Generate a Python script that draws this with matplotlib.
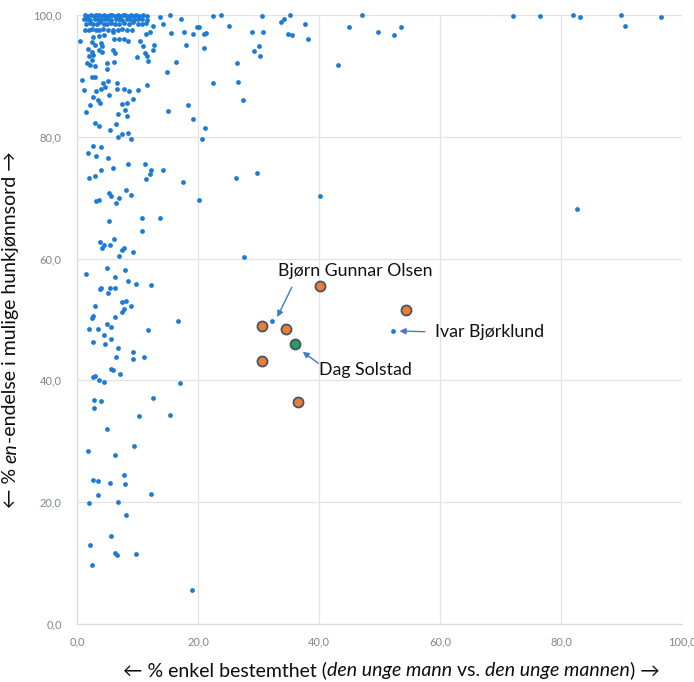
import matplotlib
matplotlib.use("Agg")
import matplotlib.pyplot as plt

FAM = ['Lato', 'DejaVu Sans']

# ---- data ----
band_x = [1.4, 1.9, 2.3, 2.8, 3.2, 3.6, 4.1, 4.5, 4.9, 5.4, 5.8, 6.2, 6.7, 7.1, 7.6, 8.0, 8.5, 8.9, 9.4, 9.8, 10.3, 10.9, 11.5,
          1.2, 1.7, 2.2, 2.9, 3.4, 3.9, 4.6, 5.1, 5.7, 6.4, 7.0, 7.5, 8.2, 8.8, 9.5, 10.1, 10.8, 11.6,
          1.5, 2.1, 2.6, 3.3, 3.8, 4.4, 5.0, 5.6, 6.3, 6.9, 7.8, 8.6, 9.3, 10.0, 10.7, 11.4,
          1.3, 2.0, 2.5, 3.1, 3.7, 4.3, 5.2, 6.0, 6.8, 7.4, 8.3, 9.1]
band_y = [100.0, 99.9, 100.0, 99.9, 100.0, 100.0, 99.9, 100.0, 99.9, 100.0, 100.0, 99.9, 100.0, 99.9, 100.0, 100.0, 99.9, 100.0, 99.9, 100.0, 99.9, 100.0, 99.9,
          99.3, 99.4, 99.2, 99.3, 99.4, 99.2, 99.3, 99.4, 99.2, 99.3, 99.4, 99.2, 99.3, 99.4, 99.2, 99.3, 99.4, 99.2,
          98.6, 98.7, 98.5, 98.6, 98.8, 98.6, 98.5, 98.7, 98.6, 98.5, 98.7, 98.6, 98.8, 98.5, 98.6, 98.7,
          97.6, 97.5, 97.7, 97.6, 97.5, 97.7, 97.6, 97.5, 97.6, 97.7, 97.5, 97.6]

blue_x = [2.7, 3.7, 4.4, 2.4, 2.9, 3.9, 4.2, 6.0, 6.1, 7.0, 7.7, 8.5, 10.4, 11.4, 12.1, 10.9, 12.8, 12.6, 11.2, 11.5,
          9.9, 11.8, 3.7, 4.2, 1.9, 2.4, 6.0, 6.3, 6.1, 4.9, 5.0, 2.7, 2.0, 2.4, 2.1, 3.0, 1.6, 0.5,
          13.7, 15.4, 17.2, 22.4, 23.8, 12.6, 14.2, 15.6, 17.7, 19.1, 19.8, 20.2, 21.0, 21.4, 25.2, 28.9, 29.3, 26.4,
          22.4, 26.6, 27.5, 15.1, 18.4, 19.2, 21.2, 20.6, 14.8, 16.4, 18.0, 21.0,
          11.6, 10.1, 9.2, 8.6, 7.8, 6.6, 6.6, 5.2, 4.3, 4.6, 3.9, 3.1, 1.2, 0.9, 2.4, 3.0, 5.3, 3.5, 3.8, 2.6,
          2.1, 1.5, 7.4, 8.2, 7.9, 6.8, 8.3, 3.0, 3.7, 5.5, 6.4, 6.7, 7.5, 8.5, 8.9, 2.6, 3.9, 1.9, 3.1, 5.2,
          30.5, 30.7, 30.0, 30.25, 33.8, 34.2, 35.2, 37.7, 34.9, 35.5, 38.2, 43.2, 45.0, 47.05, 49.8, 52.4, 53.6,
          72.0, 76.5, 82.0, 83.2, 89.9, 90.5, 96.6, 82.6, 29.8, 40.1,
          8.4, 11.2, 14.2, 12.3, 12.1, 11.4, 4.0, 6.0, 3.0, 2.0, 17.5, 26.3, 20.1, 5.3, 5.7, 8.1, 8.9, 7.0, 6.4,
          3.1, 3.7, 5.3, 10.8, 13.7, 10.8, 3.8, 4.5, 4.2, 5.5, 6.1, 7.4, 7.8, 7.0, 9.2, 27.6, 1.5, 4.9, 7.9, 6.2,
          8.5, 9.7, 12.2, 3.9, 3.8, 5.5, 6.3, 5.1, 7.4, 8.1, 2.9, 9.0,
          7.4, 7.7, 2.7, 2.4, 6.3, 16.7, 4.9, 5.7, 2.0, 3.5, 11.8, 4.4, 5.6, 2.7, 4.6, 6.7, 9.3, 9.2, 11.0, 6.4,
          5.6, 6.0, 7.1, 2.7, 3.0, 3.7, 4.5, 17.0, 2.8, 3.9, 2.8, 12.6, 10.3, 15.4, 4.9, 9.5, 1.8, 6.3,
          7.8, 7.9, 2.7, 3.5, 5.5, 3.4, 12.2, 2.0, 6.7, 8.1, 5.6, 2.1, 6.3, 6.6, 9.8, 2.5, 19.0,
          32.3, 52.3]
blue_y = [96.4, 96.6, 96.7, 95.6, 95.1, 95.4, 94.9, 97.2, 96.0, 96.1, 96.0, 95.8, 95.8, 96.8, 97.2, 94.9, 95.0, 94.3, 93.7, 93.2,
          93.1, 92.4, 94.3, 93.9, 94.4, 94.0, 94.3, 93.7, 92.3, 92.2, 91.2, 93.4, 93.2, 92.6, 91.8, 91.6, 92.1, 95.8,
          99.7, 100.0, 99.3, 99.9, 100.0, 98.2, 98.5, 97.1, 97.2, 96.9, 98.0, 98.1, 96.8, 97.1, 98.2, 97.2, 94.1, 92.2,
          88.9, 89.0, 86.0, 84.3, 85.2, 82.9, 81.4, 79.6, 90.7, 92.3, 95.1, 94.5,
          88.5, 87.7, 86.2, 87.6, 87.8, 87.8, 88.9, 89.2, 88.9, 88.1, 87.8, 87.6, 87.7, 89.4, 89.8, 89.8, 86.9, 86.1, 85.6, 86.6,
          85.2, 84.0, 85.4, 85.6, 84.4, 83.7, 83.4, 82.2, 81.8, 81.1, 82.1, 79.9, 80.4, 80.7, 79.7, 78.5, 78.3, 77.3, 76.9, 76.6,
          99.8, 97.2, 94.9, 93.3, 98.9, 99.4, 100.0, 98.6, 96.9, 96.7, 96.1, 91.8, 98.1, 100.0, 97.2, 96.7, 98.1,
          99.8, 99.8, 100.0, 99.6, 100.0, 98.2, 99.7, 68.2, 74.1, 70.2,
          75.6, 75.6, 74.5, 74.5, 73.9, 73.0, 74.5, 74.9, 73.6, 73.2, 72.6, 73.3, 69.6, 70.8, 70.3, 71.3, 70.4, 69.9, 69.2,
          69.5, 69.7, 66.2, 66.6, 66.6, 64.6, 62.8, 62.2, 61.7, 62.2, 63.2, 61.4, 61.7, 60.4, 61.1, 60.2, 57.5, 58.4, 58.1, 56.9,
          56.3, 55.9, 55.7, 55.1, 55.0, 55.2, 55.2, 54.4, 52.8, 53.1, 52.2, 52.2,
          51.3, 51.7, 50.5, 50.2, 50.4, 49.8, 49.3, 48.7, 48.4, 48.5, 48.3, 47.5, 46.8, 46.3, 46.0, 45.4, 44.7, 43.5, 43.8, 43.9,
          41.9, 41.7, 41.1, 40.6, 40.7, 40.1, 39.8, 39.5, 36.8, 36.6, 35.5, 37.1, 34.1, 34.4, 32.0, 29.3, 28.4, 27.7,
          24.5, 23.0, 23.7, 23.5, 23.1, 21.2, 21.3, 19.8, 20.0, 17.9, 14.5, 12.9, 11.6, 11.4, 11.5, 9.7, 5.6,
          49.8, 48.1]

orange_x = [40.1, 30.5, 34.5, 54.3, 30.5, 36.6]
orange_y = [55.5, 48.9, 48.4, 51.5, 43.2, 36.5]
green_x = [36.0]
green_y = [45.9]

ann_labels = ['Bjørn Gunnar Olsen', 'Ivar Bjørklund', 'Dag Solstad']
ann_text_xy = [(46.0, 57.9), (59.2, 48.0), (40.0, 41.7)]
ann_ha = ['center', 'left', 'left']
ann_arrow_from = [(35.5, 55.3), (57.5, 48.0), (39.9, 42.8)]
ann_arrow_to = [(33.1, 50.4), (53.3, 48.1), (37.3, 44.7)]

ticks = [0, 20, 40, 60, 80, 100]
tick_labels = ['0,0', '20,0', '40,0', '60,0', '80,0', '100,0']

# ---- figure ----
fig = plt.figure(figsize=(6.94, 6.82), dpi=100)
ax = fig.add_axes([77/694, 58/682, 605/694, 609/682])
ax.set_xlim(0, 100)
ax.set_ylim(0, 100)

grid_c = '#E3E3E3'
ax.set_xticks(ticks)
ax.set_yticks(ticks)
ax.set_xticklabels(tick_labels, family=FAM, fontsize=8, color='#7F8790')
ax.set_yticklabels(tick_labels, family=FAM, fontsize=8, color='#7F8790')
ax.tick_params(length=0, pad=9)
ax.tick_params(axis='y', pad=11)
ax.grid(True, color=grid_c, lw=0.9)
ax.set_axisbelow(True)
for s in ['top', 'right']:
    ax.spines[s].set_visible(False)
for s in ['left', 'bottom']:
    ax.spines[s].set_color('#D6DCE2')
    ax.spines[s].set_linewidth(0.9)

blue = '#1C7CD5'
ax.scatter(band_x, band_y, s=12, color=blue, lw=0, zorder=3, clip_on=False)
ax.scatter(blue_x, blue_y, s=12, color=blue, lw=0, zorder=3, clip_on=False)
ax.scatter(orange_x, orange_y, s=52, color='#ED7D31', edgecolors='#44546A', linewidths=1.3, zorder=4)
ax.scatter(green_x, green_y, s=52, color='#22A05E', edgecolors='#44546A', linewidths=1.3, zorder=4)

for lab, txy, ha, a0, a1 in zip(ann_labels, ann_text_xy, ann_ha, ann_arrow_from, ann_arrow_to):
    ax.text(txy[0], txy[1], lab, ha=ha, va='center', family=FAM, fontsize=12.8, color='#111111', zorder=5)
    ax.annotate('', xy=a1, xytext=a0,
                arrowprops=dict(arrowstyle='-|>', color='#3D7CC9', lw=1.0, mutation_scale=9,
                                shrinkA=0, shrinkB=0), zorder=5)

# ---- axis labels built from pieces (italic parts) ----
lab_fs = 14
lab_c = '#0d0d0d'
xparts = [('← % enkel bestemthet (', 'normal'), ('den unge mann', 'italic'), (' vs. ', 'normal'),
          ('den unge mannen', 'italic'), (') →', 'normal')]
yparts = [('← % ', 'normal'), ('en', 'italic'), ('-endelse i mulige hunkjønnsord →', 'normal')]

first_x = fig.text(0.0, 1 - 679/682, xparts[0][0], family=FAM, style=xparts[0][1], fontsize=lab_fs,
                   color=lab_c, ha='left', va='bottom')
prev = first_x
xobjs = [first_x]
for txt, st in xparts[1:]:
    prev = ax.annotate(txt, xy=(1, 0), xycoords=prev, ha='left', va='bottom', family=FAM, style=st,
                       fontsize=lab_fs, color=lab_c, annotation_clip=False)
    xobjs.append(prev)

first_y = fig.text(2/694, 0.0, yparts[0][0], family=FAM, style=yparts[0][1], fontsize=lab_fs,
                   color=lab_c, ha='left', va='bottom', rotation=90)
prev = first_y
yobjs = [first_y]
for txt, st in yparts[1:]:
    prev = ax.annotate(txt, xy=(0, 1), xycoords=prev, ha='left', va='bottom', family=FAM, style=st,
                       fontsize=lab_fs, color=lab_c, rotation=90, annotation_clip=False)
    yobjs.append(prev)

fig.canvas.draw()
r = fig.canvas.get_renderer()
W, H = fig.bbox.width, fig.bbox.height
# center x label at x = 391 px
x0 = min(o.get_window_extent(r).x0 for o in xobjs)
x1 = max(o.get_window_extent(r).x1 for o in xobjs)
first_x.set_x((391 - (x1 - x0) / 2) / W)
# center y label at y = 330 px from top
y0 = min(o.get_window_extent(r).y0 for o in yobjs)
y1 = max(o.get_window_extent(r).y1 for o in yobjs)
cy = H - 330
first_y.set_y((cy - (y1 - y0) / 2) / H)

fig.savefig('out.png', dpi=100, facecolor='white')
